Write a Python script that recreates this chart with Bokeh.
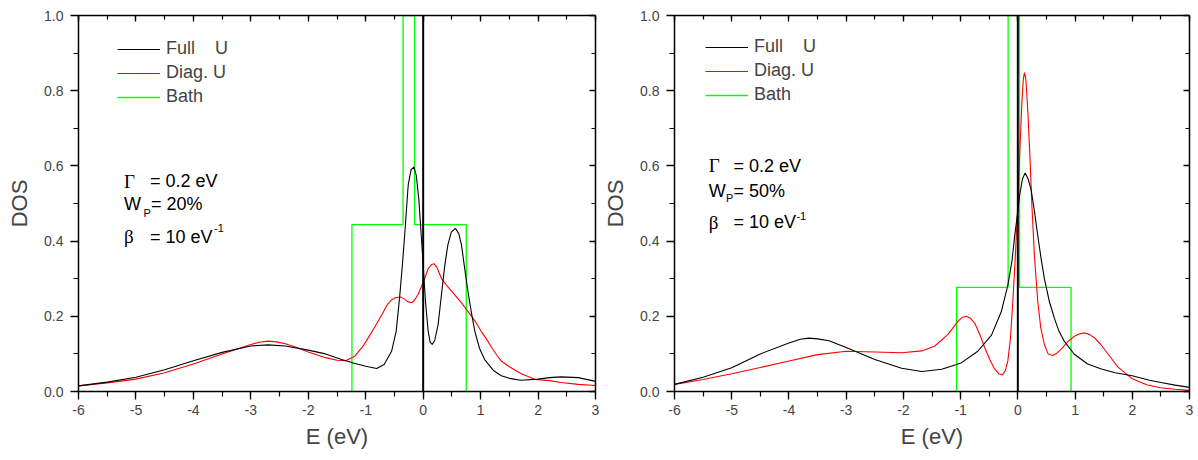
from bokeh.plotting import figure
from bokeh.models import (Range1d, FixedTicker, LinearAxis, Label, Legend, LegendItem,
                          Span, CustomJSTickFormatter, PrintfTickFormatter)
from bokeh.layouts import row
from bokeh.embed import file_html
from bokeh.resources import INLINE

# ---------------- data: left panel (W_P = 20%) ----------------
left_full_e = [-6.0, -5.5, -5.0, -4.5, -4.0, -3.5, -3.0, -2.7, -2.4, -2.0, -1.7, -1.42, -1.2, -1.0,
               -0.81, -0.68, -0.55, -0.47, -0.41, -0.36, -0.32, -0.26, -0.21, -0.16, -0.12, -0.075,
               -0.04, 0.0, 0.04, 0.087, 0.12, 0.157, 0.2, 0.26, 0.32, 0.377, 0.43, 0.49, 0.56, 0.62,
               0.667, 0.72, 0.78, 0.84, 0.9, 0.98, 1.07, 1.23, 1.36, 1.5, 1.7, 2.0, 2.2, 2.4, 2.7, 3.0]
left_full_dos = [0.015, 0.025, 0.038, 0.058, 0.082, 0.104, 0.121, 0.124, 0.121, 0.110, 0.100, 0.085,
                 0.075, 0.067, 0.061, 0.072, 0.107, 0.160, 0.250, 0.340, 0.420, 0.550, 0.590, 0.597,
                 0.575, 0.510, 0.430, 0.336, 0.240, 0.160, 0.132, 0.125, 0.135, 0.178, 0.260, 0.336,
                 0.390, 0.424, 0.434, 0.420, 0.390, 0.330, 0.266, 0.210, 0.160, 0.115, 0.085, 0.055,
                 0.042, 0.035, 0.030, 0.033, 0.037, 0.039, 0.037, 0.027]
left_diag_e = [-6.0, -5.5, -5.0, -4.5, -4.0, -3.5, -3.0, -2.85, -2.7, -2.55, -2.4, -2.2, -2.0, -1.7,
               -1.5, -1.35, -1.19, -1.05, -0.96, -0.84, -0.72, -0.62, -0.55, -0.47, -0.39, -0.32,
               -0.27, -0.2, -0.145, -0.09, -0.03, 0.03, 0.087, 0.15, 0.19, 0.24, 0.32, 0.43, 0.55,
               0.67, 0.78, 0.9, 1.01, 1.1, 1.2, 1.29, 1.36, 1.5, 1.7, 1.95, 2.2, 2.4, 2.7, 3.0]
left_diag_dos = [0.015, 0.023, 0.033, 0.050, 0.073, 0.100, 0.125, 0.131, 0.134, 0.132, 0.127, 0.117,
                 0.105, 0.090, 0.083, 0.082, 0.094, 0.120, 0.142, 0.172, 0.204, 0.232, 0.244, 0.250,
                 0.251, 0.245, 0.239, 0.236, 0.244, 0.258, 0.279, 0.302, 0.327, 0.338, 0.340, 0.330,
                 0.300, 0.278, 0.257, 0.235, 0.213, 0.188, 0.160, 0.140, 0.115, 0.095, 0.081, 0.066,
                 0.048, 0.032, 0.029, 0.024, 0.019, 0.016]
left_bath_edges = [-1.24, -0.35, -0.15, 0.75]
left_bath_heights = [0.444, 1.0, 0.444]

# ---------------- data: right panel (W_P = 50%) ----------------
right_full_e = [-6.0, -5.5, -5.0, -4.5, -4.0, -3.8, -3.65, -3.5, -3.3, -3.0, -2.5, -2.03, -1.68,
                -1.33, -0.99, -0.70, -0.46, -0.29, -0.174, -0.1, -0.058, 0.0, 0.03, 0.08, 0.128,
                0.18, 0.232, 0.29, 0.348, 0.41, 0.464, 0.55, 0.638, 0.72, 0.81, 0.987, 1.22, 1.46,
                1.7, 2.0, 2.3, 2.5, 2.75, 3.0]
right_full_dos = [0.019, 0.038, 0.063, 0.100, 0.129, 0.139, 0.142, 0.140, 0.135, 0.117, 0.085, 0.062,
                  0.053, 0.059, 0.076, 0.107, 0.150, 0.212, 0.283, 0.350, 0.410, 0.480, 0.520, 0.565,
                  0.581, 0.565, 0.537, 0.480, 0.415, 0.350, 0.300, 0.240, 0.195, 0.160, 0.134, 0.099,
                  0.073, 0.060, 0.050, 0.042, 0.030, 0.024, 0.017, 0.011]
right_diag_e = [-6.0, -5.5, -5.0, -4.5, -4.0, -3.5, -3.0, -2.5, -2.03, -1.68, -1.45, -1.22, -1.045,
                -0.97, -0.9, -0.83, -0.755, -0.66, -0.58, -0.49, -0.406, -0.33, -0.273, -0.22, -0.174,
                -0.13, -0.087, -0.04, 0.0, 0.035, 0.07, 0.095, 0.116, 0.14, 0.174, 0.21, 0.244, 0.29,
                0.348, 0.40, 0.464, 0.53, 0.61, 0.68, 0.755, 0.87, 0.987, 1.07, 1.16, 1.25, 1.335,
                1.45, 1.6, 1.75, 1.91, 2.0, 2.25, 2.49, 2.75, 3.0]
right_diag_dos = [0.019, 0.032, 0.047, 0.064, 0.081, 0.098, 0.107, 0.105, 0.103, 0.108, 0.121, 0.152,
                  0.187, 0.197, 0.200, 0.195, 0.182, 0.150, 0.117, 0.085, 0.060, 0.047, 0.044, 0.055,
                  0.082, 0.140, 0.240, 0.370, 0.500, 0.640, 0.765, 0.830, 0.848, 0.830, 0.748, 0.630,
                  0.500, 0.360, 0.240, 0.170, 0.125, 0.100, 0.096, 0.102, 0.112, 0.132, 0.147, 0.153,
                  0.156, 0.152, 0.143, 0.125, 0.095, 0.065, 0.045, 0.034, 0.018, 0.010, 0.006, 0.003]
right_bath_edges = [-1.07, -0.17, 0.03, 0.93]
right_bath_heights = [0.277, 1.0, 0.277]

fermi_level = 0.0
x_major = [-6, -5, -4, -3, -2, -1, 0, 1, 2, 3]
x_minor = [-6 + 0.5 * i for i in range(19)]
y_major = [0.0, 0.2, 0.4, 0.6, 0.8, 1.0]
y_minor = [0.1 * i for i in range(11)]
legend_labels = ["Full    U", "Diag. U", "Bath"]

FONT = "Liberation Sans"
SERIF = "Liberation Serif"


def step_path(edges, heights):
    xs = [edges[0]]
    ys = [0.0]
    for i, h in enumerate(heights):
        xs += [edges[i], edges[i + 1]]
        ys += [h, h]
    xs.append(edges[-1])
    ys.append(0.0)
    return xs, ys


def style_axis(ax, outward=True):
    ax.axis_line_width = 1.5
    ax.axis_line_color = "black"
    ax.major_tick_line_width = 1.3
    ax.minor_tick_line_width = 1.2
    ax.major_tick_line_color = "black"
    ax.minor_tick_line_color = "black"
    if outward:
        ax.major_tick_out = 8
        ax.major_tick_in = 0
        ax.minor_tick_out = 5
        ax.minor_tick_in = 0
    else:
        ax.major_tick_out = 0
        ax.major_tick_in = 6
        ax.minor_tick_out = 0
        ax.minor_tick_in = 4


def make_panel(full_e, full_dos, diag_e, diag_dos, bath_edges, bath_heights, wp_label,
               width, bl, br, bt, bb, legend_xy, ann):
    p = figure(width=width, height=460, output_backend="svg", toolbar_location=None,
               x_range=Range1d(-6, 3), y_range=Range1d(0, 1.0),
               min_border_left=bl, min_border_right=br, min_border_top=bt, min_border_bottom=bb)
    p.outline_line_color = None
    p.xgrid.visible = False
    p.ygrid.visible = False
    p.background_fill_color = "white"
    p.border_fill_color = "white"

    bx, by = step_path(bath_edges, bath_heights)
    r_bath = p.line(bx, by, line_color="#00ff00", line_width=1.3)
    r_diag = p.line(diag_e, diag_dos, line_color="#ff0000", line_width=1.1)
    r_full = p.line(full_e, full_dos, line_color="black", line_width=1.1)
    p.add_layout(Span(location=fermi_level, dimension="height", line_color="black", line_width=2))

    xt = FixedTicker(ticks=x_major, minor_ticks=x_minor)
    yt = FixedTicker(ticks=y_major, minor_ticks=y_minor)

    xa = p.xaxis[0]
    xa.ticker = xt
    xa.formatter = PrintfTickFormatter(format="%d")
    style_axis(xa)
    xa.major_label_text_font = FONT
    xa.major_label_text_font_size = "14px"
    xa.major_label_standoff = 5
    xa.axis_label = "E (eV)"
    xa.axis_label_text_font = FONT
    xa.axis_label_text_font_style = "normal"
    xa.axis_label_text_font_size = "22px"
    xa.axis_label_standoff = 6

    ya = p.yaxis[0]
    ya.ticker = yt
    ya.formatter = PrintfTickFormatter(format="%.1f")
    style_axis(ya)
    ya.major_label_text_font = FONT
    ya.major_label_text_font_size = "14px"
    ya.major_label_standoff = 7
    ya.axis_label = "DOS"
    ya.axis_label_text_font = FONT
    ya.axis_label_text_font_style = "normal"
    ya.axis_label_text_font_size = "22px"
    ya.axis_label_standoff = 9

    blank = CustomJSTickFormatter(code="return ''")
    top = LinearAxis(ticker=FixedTicker(ticks=x_major, minor_ticks=x_minor), formatter=blank,
                     major_label_text_font_size="1px", major_label_standoff=0)
    style_axis(top, outward=False)
    p.add_layout(top, "above")
    right = LinearAxis(ticker=FixedTicker(ticks=y_major, minor_ticks=y_minor), formatter=blank,
                       major_label_text_font_size="1px", major_label_standoff=0)
    style_axis(right, outward=False)
    p.add_layout(right, "right")

    legend = Legend(items=[LegendItem(label=legend_labels[0], renderers=[r_full]),
                           LegendItem(label=legend_labels[1], renderers=[r_diag]),
                           LegendItem(label=legend_labels[2], renderers=[r_bath])],
                    location=legend_xy, padding=0, margin=0, spacing=3,
                    label_height=20, glyph_height=20, glyph_width=43, label_standoff=6,
                    label_text_font=FONT, label_text_font_size="18px",
                    border_line_color=None, background_fill_alpha=0)
    p.add_layout(legend, "center")

    gx, ex, y1, wy, px_, py_, wx, y3, supx, supy = ann
    def lab(x, y, t, font=FONT, size="18px"):
        p.add_layout(Label(x=x, y=y, text=t, text_font=font, text_font_size=size,
                           text_baseline="middle", text_align="left", text_color="black"))
    lab(gx, y1, "Γ", SERIF, "19px")
    lab(ex, y1, "= 0.2 eV")
    lab(gx, wy, "W")
    lab(px_, py_, "P", FONT, "11px")
    lab(wx, wy, wp_label)
    lab(gx, y3, "β", SERIF, "19px")
    lab(ex, y3, "= 10 eV")
    lab(supx, supy, "-1", FONT, "11px")
    return p


p1 = make_panel(left_full_e, left_full_dos, left_diag_e, left_diag_dos,
                left_bath_edges, left_bath_heights, "= 20%",
                600, 78, 5, 15, 66, (39, 284),
                (-5.21, -4.757, 0.559, 0.499, -4.87, 0.476, -4.74, 0.412, -3.64, 0.435))
p2 = make_panel(right_full_e, right_full_dos, right_diag_e, right_diag_dos,
                right_bath_edges, right_bath_heights, "= 50%",
                598, 72, 9, 11, 69, (31, 286),
                (-5.403, -4.968, 0.60, 0.534, -5.10, 0.514, -4.968, 0.45, -3.87, 0.466))

layout = row(p1, p2)
open("out.html", "w").write(file_html(layout, INLINE))
